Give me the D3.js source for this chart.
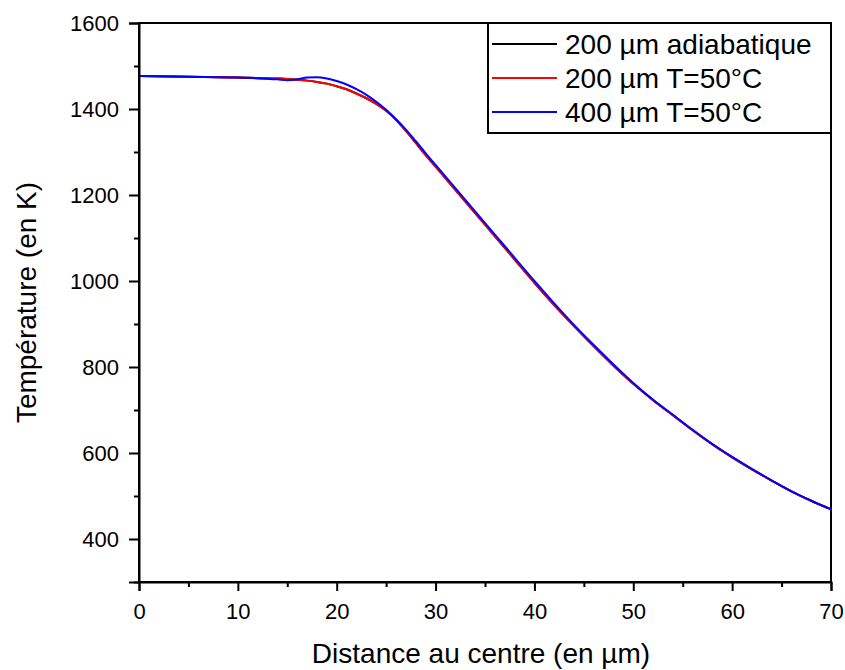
<!DOCTYPE html>
<html><head><meta charset="utf-8">
<script src="https://cdn.jsdelivr.net/npm/d3@7"></script>
<style>body{margin:0;background:#fff}svg{display:block}text{font-family:Arial,"Liberation Sans",sans-serif;fill:#000}</style>
</head><body><svg id="c" width="845" height="670"></svg>
<script>
const seriesNames = ["200 µm adiabatique", "200 µm T=50°C", "400 µm T=50°C"];
const seriesColors = ["#000000", "#ff0000", "#0000ff"];
const xTicks = [0, 10, 20, 30, 40, 50, 60, 70];
const yTicks = [400, 600, 800, 1000, 1200, 1400, 1600];
const xLabel = "Distance au centre (en µm)";
const yLabel = "Température (en K)";

const xs = [0, 5, 10, 14, 15, 16, 17, 18, 19, 20, 21, 22, 23, 24, 25, 26, 27, 28, 29, 30, 32, 34, 36, 38, 40, 42, 44, 46, 48, 50, 52, 54, 56, 58, 60, 62, 64, 66, 68, 70];
const adiab200 = [1477, 1475, 1473, 1471, 1470, 1468, 1466, 1463, 1459, 1453, 1446, 1436, 1425, 1412, 1396, 1375, 1349, 1321, 1293, 1266, 1212, 1158, 1104, 1050, 996, 944, 895, 848, 803, 761, 723, 688, 653, 620, 590, 562, 536, 511, 489, 469];
const t50_200 = [1477, 1475, 1473, 1471, 1470, 1468, 1466, 1463, 1459, 1453, 1446, 1436, 1425, 1412, 1396, 1375, 1349, 1321, 1293, 1266, 1212, 1158, 1104, 1050, 996, 944, 895, 848, 803, 761, 723, 688, 653, 620, 590, 562, 536, 511, 489, 469];
const t50_400 = [1477, 1475, 1473, 1469, 1467, 1469, 1473, 1474, 1471, 1465, 1457, 1446, 1433, 1417, 1398, 1376, 1352, 1325, 1297, 1270, 1216, 1162, 1108, 1054, 1000, 948, 898, 851, 806, 763, 724, 689, 654, 621, 591, 563, 536, 511, 489, 469];
const series = [adiab200, t50_200, t50_400];

const svg = d3.select("#c");
const L = 139, R = 831, T = 23, B = 582;
const x = d3.scaleLinear().domain([0, 70]).range([L, R]);
const y = d3.scaleLinear().domain([300, 1600]).range([B, T]);

// frame
svg.append("rect").attr("x", L).attr("y", T).attr("width", R - L).attr("height", B - T)
  .attr("fill", "none").attr("stroke", "#000").attr("stroke-width", 2);

// curves
const line = d3.line().x((d, i) => x(xs[i])).y(d => y(d)).curve(d3.curveMonotoneX);
series.forEach((s, k) => {
  svg.append("path").datum(s).attr("d", line).attr("fill", "none")
    .attr("stroke", seriesColors[k]).attr("stroke-width", 2);
});

// axes
const xAxis = d3.axisBottom(x).tickValues(xTicks).tickSize(9).tickPadding(12).tickFormat(d3.format("d"));
const xMinor = d3.axisBottom(x).tickValues(d3.range(5, 70, 10)).tickSize(5).tickFormat("");
const yAxis = d3.axisLeft(y).tickValues(yTicks).tickSize(10).tickPadding(10).tickFormat(d3.format("d"));
const yMinor = d3.axisLeft(y).tickValues(d3.range(300, 1600, 200)).tickSize(5).tickFormat("");
function style(g) {
  g.select(".domain").attr("stroke-width", 2);
  g.selectAll(".tick line").attr("stroke-width", 2);
  g.selectAll("text").attr("font-size", 22).attr("font-family", "Arial, 'Liberation Sans', sans-serif");
}
svg.append("g").attr("transform", `translate(0,${B})`).call(xAxis).call(style);
svg.append("g").attr("transform", `translate(0,${B})`).call(xMinor).call(style).select(".domain").remove();
svg.append("g").attr("transform", `translate(${L},0)`).call(yAxis).call(style);
svg.append("g").attr("transform", `translate(${L},0)`).call(yMinor).call(style).select(".domain").remove();

// axis titles
svg.append("text").attr("x", 481).attr("y", 663).attr("text-anchor", "middle")
  .attr("font-size", 28).text(xLabel);
svg.append("text").attr("transform", `translate(36,${(T + B) / 2}) rotate(-90)`).attr("text-anchor", "middle")
  .attr("font-size", 28).text(yLabel);

// legend
const lg = svg.append("g");
lg.append("rect").attr("x", 488).attr("y", T).attr("width", R - 488).attr("height", 110)
  .attr("fill", "#fff").attr("stroke", "#000").attr("stroke-width", 2);
seriesNames.forEach((n, k) => {
  const cy = 44 + k * 34;
  lg.append("line").attr("x1", 492).attr("x2", 557).attr("y1", cy).attr("y2", cy)
    .attr("stroke", seriesColors[k]).attr("stroke-width", 2);
  lg.append("text").attr("x", 565).attr("y", cy + 10).attr("font-size", 28).text(n);
});
</script></body></html>
